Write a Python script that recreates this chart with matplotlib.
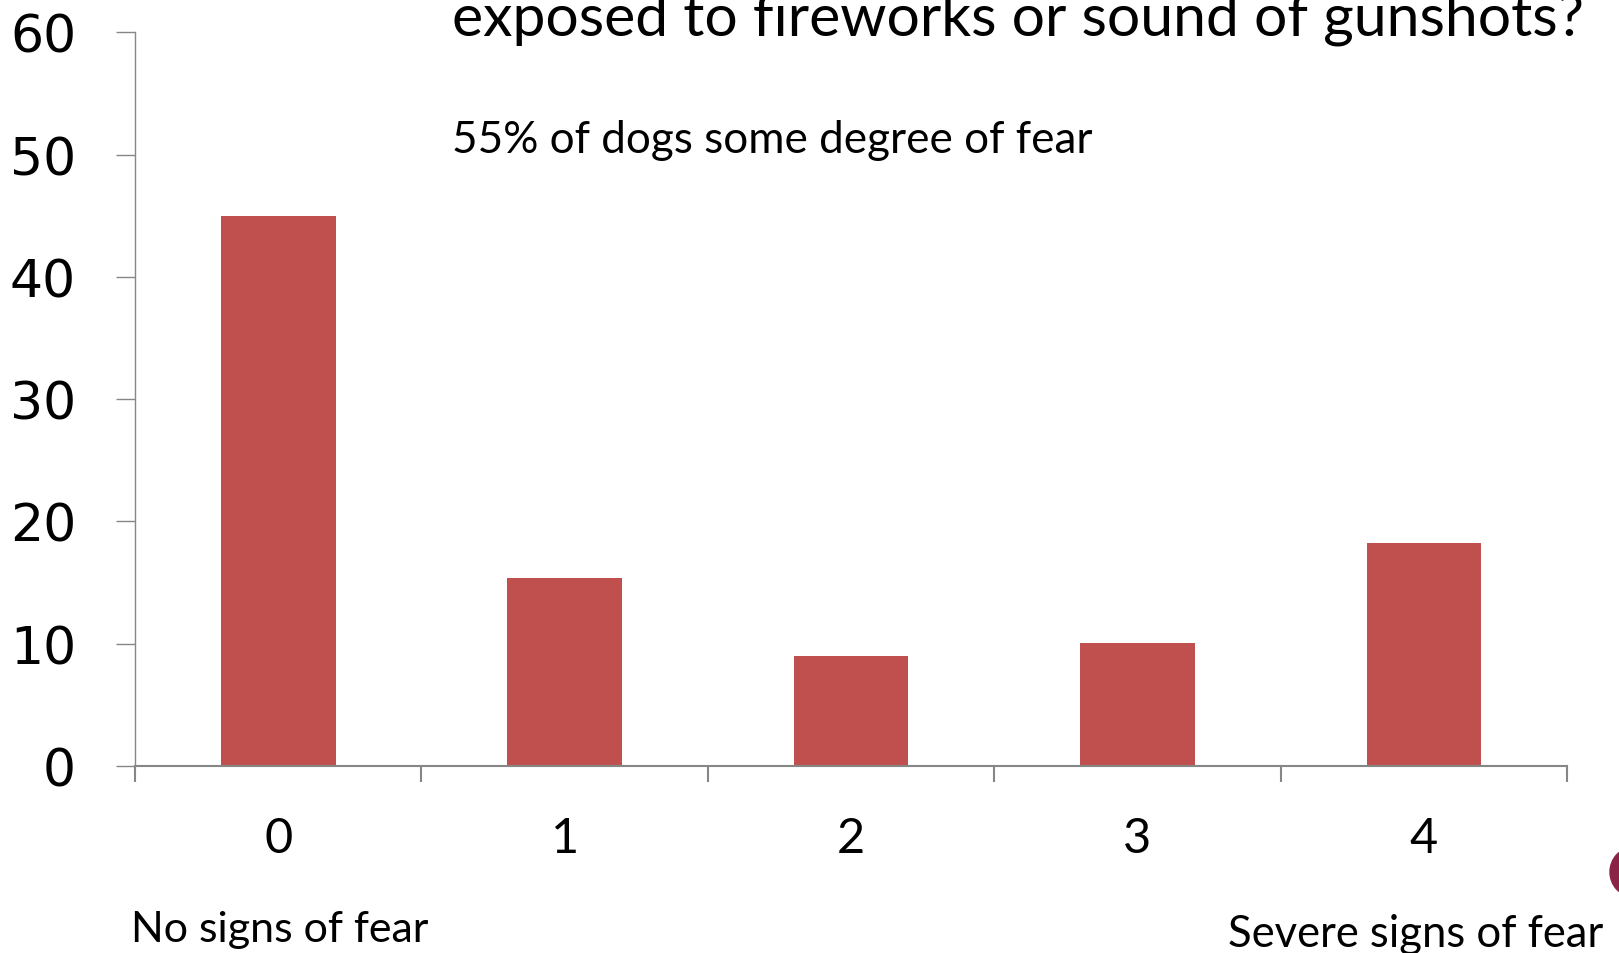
import matplotlib
matplotlib.use("Agg")
import matplotlib.pyplot as plt
import matplotlib.patches as mpatches

# dados
categorias = ["0", "1", "2", "3", "4"]
percentuais = [45.0, 15.4, 9.0, 10.1, 18.2]
yticks = [0, 10, 20, 30, 40, 50, 60]

COR_BARRA = "#C0504D"
COR_EIXO = "#868686"

plt.rcParams["font.family"] = ["Lato", "DejaVu Sans"]

fig = plt.figure(figsize=(16.19, 9.54), dpi=100)
fig.patch.set_facecolor("white")
ax = fig.add_axes([0.0834, 0.196, 0.8845, 0.769])

x = list(range(len(categorias)))
ax.bar(x, percentuais, width=0.4, color=COR_BARRA, zorder=2)

ax.set_xlim(-0.5, len(categorias) - 0.5)
ax.set_ylim(0, 60)

# eixo y
ax.set_yticks(yticks)
ax.set_yticklabels([str(v) for v in yticks], family="DejaVu Sans", fontsize=37.5)
ax.tick_params(axis="y", direction="out", length=13.4, width=1, color=COR_EIXO, pad=29)

# eixo x: rótulos no centro, marcas nas bordas das categorias
ax.set_xticks(x)
ax.set_xticklabels(categorias, fontsize=35)
ax.tick_params(axis="x", which="major", length=0, pad=36)
ax.set_xticks([i - 0.5 for i in range(len(categorias) + 1)], minor=True)
ax.tick_params(axis="x", which="minor", direction="out", length=11.5, width=1.5, color=COR_EIXO)

for lado in ["top", "right"]:
    ax.spines[lado].set_visible(False)
ax.spines["left"].set_color(COR_EIXO)
ax.spines["bottom"].set_color(COR_EIXO)
ax.spines["left"].set_linewidth(1)
ax.spines["bottom"].set_linewidth(1.5)

# textos do slide (o título aparece cortado no topo, como no original)
fig.text(452 / 1619, 1 - 36 / 954, "exposed to fireworks or sound of gunshots?",
         fontsize=42.4, va="baseline", ha="left")
fig.text(452 / 1619, 1 - 153 / 954, "55% of dogs some degree of fear",
         fontsize=31.7, va="baseline", ha="left")
fig.text(131 / 1619, 1 - 942 / 954, "No signs of fear",
         fontsize=31, va="baseline", ha="left")
fig.text(1228 / 1619, 1 - 947 / 954, "Severe signs of fear",
         fontsize=31.4, va="baseline", ha="left")

# pedaço do logo (coração) cortado na borda direita
coracao = mpatches.Ellipse((1632 / 1619, 1 - 873 / 954), 44 / 1619, 48 / 954,
                           transform=fig.transFigure, color="#8B2346", zorder=5)
fig.patches.append(coracao)

plt.savefig("out.png", dpi=100, facecolor=fig.get_facecolor())
